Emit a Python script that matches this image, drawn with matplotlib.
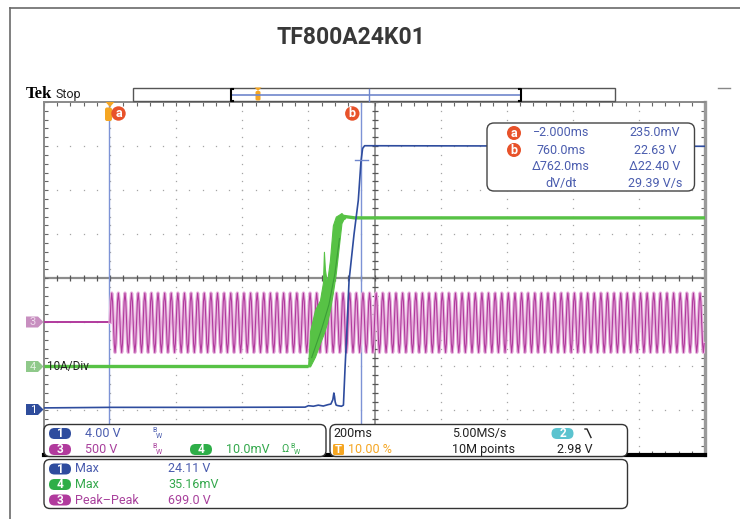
import numpy as np
import matplotlib
matplotlib.use("Agg")
import matplotlib.pyplot as plt
from matplotlib.patches import FancyBboxPatch, Circle, Polygon

plt.rcParams['font.family'] = ['Roboto', 'DejaVu Sans']

# --- scope settings (from the readouts) ---
t_left, t_right = -200.0, 1800.0      # ms, 200 ms/div, trigger at 10 %
ch1_scale, ch1_pos = 4.0, -2.98       # V/div, position in div
ch3_scale, ch3_pos = 500.0, -1.0      # V/div
ch4_scale, ch4_pos = 10.0, -2.0       # mV/div (10 A/div)
cursor_a, cursor_b = -2.0, 760.0      # ms
cursor_b_level = 22.63                # V

# --- ch1 (blue) output voltage, V ---
ch1_t = [-200, 0, 300, 590, 600, 615, 630, 645, 660, 668, 674, 677, 679, 681, 684,
         690, 700, 706, 711, 716, 723, 738, 751, 759, 764, 770, 1800]
ch1_v = [0.15, 0.2, 0.2, 0.22, 0.35, 0.3, 0.4, 0.32, 0.45, 0.5, 0.9, 1.5, 1.2, 0.7, 0.4,
         0.35, 0.3, 0.4, 3.85, 6.9, 11.7, 15.9, 19.0, 22.5, 23.7, 23.95, 23.9]

# --- ch3 (magenta) mains input, V: one 20 ms cycle repeated after the trigger ---
ch3_pre_t = [-200, 0]
ch3_pre_v = [0, 0]
ch3_cycle = [0, 235, 332, 235, 0, -240, -342, -240]
ch3_cycle_ms = 20.0
ch3_cycles = 90

# --- ch4 (green) current, mV ---
ch4_pre_t = [-200, 599]
ch4_pre_v = [0, 0]
ch4_band_t = [599, 605, 620, 635, 644, 647, 650, 656, 665, 674, 683, 692, 700, 706, 711]
ch4_band_lo = [0, 0, 2.2, 5.3, 7.0, 7.6, 8.3, 9.8, 12.8, 16.7, 21.2, 27.2, 32.5, 33.4, 33.6]
ch4_band_hi = [0, 8.0, 12.8, 15.0, 19.0, 26.0, 22.0, 18.9, 24.0, 32.0, 34.0, 34.4, 34.8, 34.3, 34.0]
ch4_strand_t = [610, 640, 662, 680, 694]
ch4_strand_v = [2.0, 8.5, 14.0, 21.0, 29.0]
ch4_top_t = [711, 740, 1800]
ch4_top_v = [34.0, 33.7, 33.7]

blue = '#2e4c9e'
blue_txt = '#4a5cae'
magenta = '#b13a9d'
magenta_txt = '#a8409c'
pink = '#e6b0dc'
green = '#57c245'
green_dark = '#3c9e37'
green_txt = '#34a84c'
orange = '#f5a623'
red = '#e8522a'
cyan = '#5bc3cf'

fig = plt.figure(figsize=(7.4, 5.19), dpi=100)
fig.patch.set_facecolor('white')

# graticule axes: x 44..705 px, y 102..454.5 px
W, H = 740.0, 519.0
gl, gr, gt, gb = 44.0, 705.0, 102.0, 454.5
ax = fig.add_axes([gl / W, 1 - gb / H, (gr - gl) / W, (gb - gt) / H])
ax.set_zorder(1)
ax.set_xlim(t_left, t_right)
ax.set_ylim(-4, 4)
ax.set_xticks(np.arange(t_left, t_right + 1, 40))
ax.set_yticks(np.arange(-4, 4.01, 0.2))
ax.tick_params(direction='in', length=3, width=0.8, color='#666666', top=True, right=True,
               labelbottom=False, labelleft=False)
for side, c, lw in [('left', '#8a8a8a', 1.4), ('top', '#8a8a8a', 1.4),
                    ('right', '#9a9a9a', 2.4), ('bottom', 'black', 3.0)]:
    ax.spines[side].set_color(c)
    ax.spines[side].set_linewidth(lw)

# dotted graticule
ys = np.arange(-4, 4.01, 0.2)
xs = np.arange(t_left, t_right + 1, 40)
for i in range(1, 10):
    if i == 5:
        continue
    xv = t_left + i * 200
    ax.plot([xv] * len(ys), ys, ls='none', marker='s', ms=0.9, color='#a5a5a5', mew=0)
for j in range(-3, 4):
    if j == 0:
        continue
    ax.plot(xs, [j] * len(xs), ls='none', marker='s', ms=0.9, color='#a5a5a5', mew=0)
ax.axvline(t_left + 1000, color='#9a9a9a', lw=1.4, zorder=1)
ax.axhline(0, color='#8c8c8c', lw=1.6, zorder=1)
ax.plot([t_left + 1000] * len(ys), ys, ls='none', marker='_', ms=5, mew=0.9, color='#555555')
ax.plot(xs, [0] * len(xs), ls='none', marker='|', ms=5, mew=0.9, color='#555555')

# cursors
ax.axvline(cursor_a, color='#7d93d6', lw=1.0, zorder=2)
ax.axvline(cursor_b, color='#7d93d6', lw=1.0, zorder=2)

def div(v, scale, pos):
    return np.asarray(v, dtype=float) / scale + pos

# ch3 magenta
ch3_t = np.arange(len(ch3_cycle) * ch3_cycles) * (ch3_cycle_ms / len(ch3_cycle))
ch3_v = np.tile(ch3_cycle, ch3_cycles)
ax.plot(ch3_pre_t, div(ch3_pre_v, ch3_scale, ch3_pos), color=magenta, lw=1.4, zorder=3)
ax.plot(ch3_t, div(ch3_v, ch3_scale, ch3_pos), color=pink, lw=2.4, zorder=3)
ax.plot(ch3_t, div(ch3_v, ch3_scale, ch3_pos), color=magenta, lw=0.8, zorder=3)

# ch4 green
ax.plot(ch4_pre_t, div(ch4_pre_v, ch4_scale, ch4_pos), color=green, lw=2.4, zorder=4,
        solid_capstyle='butt')
ax.fill_between(ch4_band_t, div(ch4_band_lo, ch4_scale, ch4_pos),
                div(ch4_band_hi, ch4_scale, ch4_pos), color=green, lw=0.8, edgecolor=green, zorder=4)
ax.plot(ch4_strand_t, div(ch4_strand_v, ch4_scale, ch4_pos), color=green_dark, lw=0.8, zorder=4)
ax.plot(ch4_top_t, div(ch4_top_v, ch4_scale, ch4_pos), color=green, lw=2.4, zorder=4)

# ch1 blue
ax.plot(ch1_t, div(ch1_v, ch1_scale, ch1_pos), color=blue, lw=1.2, zorder=5)
ax.plot([cursor_b - 20, cursor_b + 20], [div(cursor_b_level, ch1_scale, ch1_pos)] * 2,
        color='#6f86cc', lw=1.0, zorder=5)

# overlay in pixel coordinates
ov = fig.add_axes([0, 0, 1, 1])
ov.set_zorder(3)
ov.patch.set_alpha(0)
ov.set_xlim(0, W)
ov.set_ylim(H, 0)
ov.axis('off')

# outer frame and title
ov.plot([10, 740], [8, 8], color='#6a6a6a', lw=1.2)
ov.plot([10, 10], [8, 519], color='#6a6a6a', lw=1.2)
ov.plot([718, 730], [88, 88], color='#888888', lw=1.0)
ov.text(351, 38, 'TF800A24K01', fontsize=16.5, fontweight='bold', color='#383838',
        ha='center', va='center')

ov.text(26, 94, 'Tek', fontsize=12, fontweight='bold', family='Liberation Serif',
        color='black', va='center')
ov.text(56, 94.5, 'Stop', fontsize=9, color='#222222', va='center')

# record bar
ov.add_patch(plt.Rectangle((133, 88), 482, 13, fc='white', ec='#555555', lw=1.0))
ov.plot([231, 520], [94.5, 94.5], color='#6f86cc', lw=1.2)
ov.plot([369, 369], [88.5, 101], color='#6f86cc', lw=1.0)
ov.plot([232.5, 230.5, 230.5, 232.5], [88.5, 88.5, 100.5, 100.5], color='black', lw=1.5)
ov.plot([518.5, 520.5, 520.5, 518.5], [88.5, 88.5, 100.5, 100.5], color='black', lw=1.5)
ov.add_patch(Polygon([(254.5, 87.5), (261.5, 87.5), (258, 91)], fc=orange, ec='none'))
ov.add_patch(FancyBboxPatch((255.5, 91), 5, 9.5, boxstyle='round,pad=0,rounding_size=1.5',
                            fc=orange, ec='none'))

# trigger marker and cursor handles
ov.add_patch(Polygon([(105.5, 102), (114.5, 102), (110, 107)], fc=orange, ec='none'))
ov.add_patch(FancyBboxPatch((105, 107.5), 7, 13.5, boxstyle='round,pad=0,rounding_size=2',
                            fc=orange, ec='none'))
for cx, lab in [(118.5, 'a'), (352.3, 'b')]:
    ov.add_patch(Circle((cx, 113.5), 7.2, fc=red, ec='none'))
    ov.text(cx, 113.8, lab, color='white', fontsize=9, fontweight='bold', ha='center', va='center')

# channel markers on the left
def ch_marker(y, fc, tc, label):
    ov.add_patch(Polygon([(26, y - 5.5), (38, y - 5.5), (43.5, y), (38, y + 5.5), (26, y + 5.5)],
                         fc=fc, ec='none'))
    ov.text(33, y + 0.3, label, color=tc, fontsize=8, ha='center', va='center')

ch_marker(322, '#c88fc0', '#efdcec', '3')
ch_marker(366.5, '#8fc98a', '#e2f2e0', '4')
ch_marker(409.5, '#2f4d9c', 'white', '1')
ov.text(47, 366.5, '10A/Div', fontsize=8.5, color='#222222', va='center')

# cursor readout box
ov.add_patch(FancyBboxPatch((487, 123), 207.5, 68, boxstyle='round,pad=0,rounding_size=7',
                            fc='white', ec='#444444', lw=1.0))
rows = [133, 150, 167, 183.5]
left_col = ['\u22122.000ms', '760.0ms', '\u0394762.0ms', 'dV/dt']
right_col = ['235.0mV', '22.63 V', '\u039422.40 V', '29.39 V/s']
for y, l, r in zip(rows, left_col, right_col):
    ov.text(561, y, l, fontsize=9, color=blue_txt, ha='center', va='center')
    ov.text(655, y, r, fontsize=9, color=blue_txt, ha='center', va='center')
for y, lab in [(rows[0], 'a'), (rows[1], 'b')]:
    ov.add_patch(Circle((514, y), 7, fc=red, ec='none'))
    ov.text(514, y + 0.3, lab, color='white', fontsize=9, fontweight='bold', ha='center', va='center')

# bottom panels
def panel(x, y, w, h):
    ov.add_patch(FancyBboxPatch((x, y), w, h, boxstyle='round,pad=0,rounding_size=6',
                                fc='white', ec='#333333', lw=1.0))

def pill(x, y, w, color, label):
    ov.add_patch(FancyBboxPatch((x, y - 5.5), w, 11, boxstyle='round,pad=0,rounding_size=5.5',
                                fc=color, ec='none'))
    ov.text(x + w / 2, y + 0.3, label, color='white', fontsize=8.5, fontweight='bold',
            ha='center', va='center')

def bw(x, y, color):
    ov.text(x, y - 2.5, 'B', fontsize=5, color=color, va='center')
    ov.text(x + 3.5, y + 2.5, 'W', fontsize=5, color=color, va='center')

panel(44, 424.5, 282, 32)
panel(330, 424.5, 297.5, 32)
panel(44, 459.5, 583.5, 49)

r1, r2 = 433.5, 449.5
pill(49, r1, 22, blue, '1')
ov.text(85, r1, '4.00 V', fontsize=9, color=blue_txt, va='center')
bw(152, r1, blue_txt)
pill(49, r2, 22, magenta, '3')
ov.text(85, r2, '500 V', fontsize=9, color=magenta_txt, va='center')
bw(152, r2, magenta_txt)
pill(190, r2, 22, '#2eae48', '4')
ov.text(226, r2, '10.0mV', fontsize=9, color=green_txt, va='center')
ov.text(281.5, r2, '\u03a9', fontsize=8, color=green_txt, va='center')
bw(290, r2, green_txt)

ov.text(333, r1, '200ms', fontsize=9, color='#222222', va='center')
ov.text(452, r1, '5.00MS/s', fontsize=9, color='#222222', va='center')
pill(551.5, r1, 22, cyan, '2')
ov.plot([585, 587, 591], [429, 429, 437.5], color='#222222', lw=1.0)
ov.add_patch(FancyBboxPatch((333, 444), 11, 11, boxstyle='round,pad=0,rounding_size=1.5',
                            fc=orange, ec='none'))
ov.text(338.5, r2 + 0.3, 'T', color='white', fontsize=8, fontweight='bold', ha='center', va='center')
ov.text(348, r2, '10.00 %', fontsize=9, color=orange, va='center')
ov.text(452, r2, '10M points', fontsize=9, color='#222222', va='center')
ov.text(557, r2, '2.98 V', fontsize=9, color='#222222', va='center')

meas = [(469, blue, blue_txt, '1', 'Max', '24.11 V'),
        (484.5, '#2eae48', green_txt, '4', 'Max', '35.16mV'),
        (500, magenta, magenta_txt, '3', 'Peak\u2013Peak', '699.0 V')]
for y, pc, tc, lab, name, val in meas:
    pill(49, y, 22, pc, lab)
    ov.text(74.5, y, name, fontsize=9, color=tc, va='center')
    ov.text(168, y, val, fontsize=9, color=tc, va='center')

fig.savefig('out.png', dpi=100, facecolor='white')
